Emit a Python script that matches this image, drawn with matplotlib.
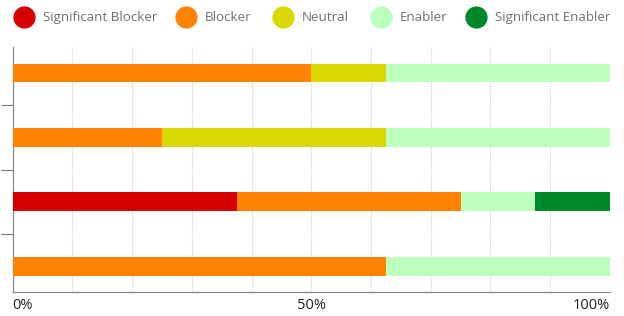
import numpy as np
import matplotlib
matplotlib.use("Agg")
import matplotlib.pyplot as plt
from matplotlib.lines import Line2D

plt.rcParams["font.family"] = ["Open Sans", "DejaVu Sans"]

# data (percent per row, top to bottom)
categories = ["Significant Blocker", "Blocker", "Neutral", "Enabler", "Significant Enabler"]
colors = ["#D60000", "#FF8300", "#D9D700", "#BDFFBD", "#00892A"]
sig_blocker = [0, 0, 37.5, 0]
blocker = [50, 25, 37.5, 62.5]
neutral = [12.5, 37.5, 0, 0]
enabler = [37.5, 37.5, 12.5, 37.5]
sig_enabler = [0, 0, 12.5, 0]
series = [sig_blocker, blocker, neutral, enabler, sig_enabler]
rows = np.arange(4)

fig = plt.figure(figsize=(6.24, 3.16), dpi=100)
ax = fig.add_axes([0.0204, 0.076, 0.957, 0.775])

left = np.zeros(4)
for vals, col in zip(series, colors):
    ax.barh(rows, vals, left=left, height=0.29, color=col, linewidth=0, zorder=3)
    left += np.array(vals)

ax.set_xlim(0, 100)
ax.set_ylim(3.4, -0.4)

for gx in range(10, 100, 10):
    ax.axvline(gx, color="#cccccc", linestyle=(0, (1, 1.2)), linewidth=0.8, zorder=1)

ax.set_yticks([0.5, 1.5, 2.5])
ax.set_yticklabels([])
ax.tick_params(axis="y", length=9, width=0.8, color="#777777", direction="out")

ax.set_xticks([0, 50, 100])
ax.set_xticklabels(["0%", "50%", "100%"], fontsize=10.5, color="#222222")
ax.tick_params(axis="x", length=0, pad=4)
xl = ax.get_xticklabels()
xl[0].set_ha("left")
xl[-1].set_ha("right")

for s in ["top", "right"]:
    ax.spines[s].set_visible(False)
ax.spines["left"].set_color("#888888")
ax.spines["bottom"].set_color("#888888")
ax.spines["left"].set_linewidth(0.9)
ax.spines["bottom"].set_linewidth(0.9)

# legend across the top
leg_x = [0.0385, 0.298, 0.4535, 0.6106, 0.763]
for x, lab, col in zip(leg_x, categories, colors):
    fig.add_artist(Line2D([x], [0.947], marker="o", markersize=16, color=col,
                          markeredgewidth=0, linestyle="none", transform=fig.transFigure))
    fig.text(x + 0.0298, 0.945, lab, fontsize=9.6, color="#6f6f6f", va="center", ha="left")

fig.savefig("out.png", dpi=100)
